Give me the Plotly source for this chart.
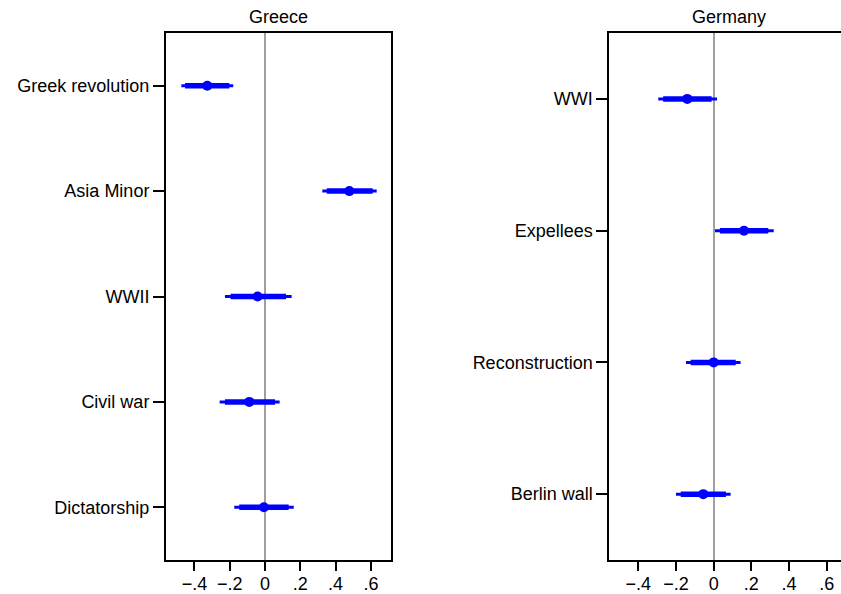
import plotly.graph_objects as go

# ---- data ----
greece_labels = ["Greek revolution", "Asia Minor", "WWII", "Civil war", "Dictatorship"]
greece_est = [-0.327, 0.478, -0.042, -0.089, -0.006]
greece_lo95 = [-0.474, 0.325, -0.227, -0.257, -0.174]
greece_hi95 = [-0.180, 0.633, 0.151, 0.083, 0.163]
greece_lo90 = [-0.453, 0.350, -0.195, -0.227, -0.146]
greece_hi90 = [-0.202, 0.610, 0.119, 0.057, 0.134]

germany_labels = ["WWI", "Expellees", "Reconstruction", "Berlin wall"]
germany_est = [-0.140, 0.161, 0.000, -0.055]
germany_lo95 = [-0.294, 0.007, -0.147, -0.200]
germany_hi95 = [0.018, 0.319, 0.143, 0.090]
germany_lo90 = [-0.268, 0.033, -0.122, -0.175]
germany_hi90 = [-0.011, 0.290, 0.117, 0.065]

tick_vals = [-0.4, -0.2, 0, 0.2, 0.4, 0.6]
tick_text = ["\u2212.4", "\u2212.2", "0", ".2", ".4", ".6"]

BLUE = "#0000ff"
FONT = "Liberation Sans, Arial, sans-serif"

fig = go.Figure()


def add_panel(labels, est, lo95, hi95, lo90, hi90, xa, ya):
    pos = list(range(1, len(labels) + 1))
    fig.add_trace(go.Scatter(
        x=est, y=pos, mode="markers", marker=dict(size=0.1, color=BLUE, opacity=0),
        error_x=dict(type="data", symmetric=False,
                     array=[h - e for h, e in zip(hi95, est)],
                     arrayminus=[e - l for l, e in zip(lo95, est)],
                     thickness=3, width=0, color=BLUE),
        xaxis=xa, yaxis=ya, showlegend=False, hoverinfo="skip"))
    fig.add_trace(go.Scatter(
        x=est, y=pos, mode="markers", marker=dict(size=0.1, color=BLUE, opacity=0),
        error_x=dict(type="data", symmetric=False,
                     array=[h - e for h, e in zip(hi90, est)],
                     arrayminus=[e - l for l, e in zip(lo90, est)],
                     thickness=5.5, width=0, color=BLUE),
        xaxis=xa, yaxis=ya, showlegend=False, hoverinfo="skip"))
    fig.add_trace(go.Scatter(
        x=est, y=pos, mode="markers", marker=dict(size=10, color=BLUE),
        xaxis=xa, yaxis=ya, showlegend=False))


add_panel(greece_labels, greece_est, greece_lo95, greece_hi95, greece_lo90, greece_hi90, "x", "y")
add_panel(germany_labels, germany_est, germany_lo95, germany_hi95, germany_lo90, germany_hi90, "x2", "y2")

xcommon = dict(tickvals=tick_vals, ticktext=tick_text, ticks="outside", ticklen=9,
               tickwidth=1.5, tickcolor="black", showline=True, linecolor="black",
               linewidth=2, showgrid=False, zeroline=True, zerolinecolor="#a0a0a0",
               zerolinewidth=2, mirror=True, ticklabelstandoff=-3,
               tickfont=dict(size=18, color="black", family=FONT))
ycommon = dict(ticks="outside", ticklen=11, tickwidth=1.5, tickcolor="black",
               showline=True, linecolor="black", linewidth=2, showgrid=False,
               zeroline=False, tickfont=dict(size=18, color="black", family=FONT))

fig.update_layout(
    width=841, height=594,
    margin=dict(l=0, r=0, t=33, b=34),
    paper_bgcolor="white", plot_bgcolor="white",
    font=dict(family=FONT, color="black"),
    xaxis=dict(domain=[166 / 841, 391 / 841], range=[-0.561, 0.714], anchor="y", **xcommon),
    yaxis=dict(domain=[0, 1], range=[5.5, 0.5], anchor="x", mirror=True,
               tickvals=list(range(1, len(greece_labels) + 1)), ticktext=greece_labels, **ycommon),
    xaxis2=dict(domain=[609.3 / 841, 1.0], range=[-0.554, 0.676], anchor="y2", **xcommon),
    yaxis2=dict(domain=[0, 1], range=[4.5, 0.5], anchor="x2", mirror=False,
                tickvals=list(range(1, len(germany_labels) + 1)), ticktext=germany_labels, **ycommon),
    annotations=[
        dict(text="Greece", x=(166 + 391) / 2 / 841, y=1, xref="paper", yref="paper",
             xanchor="center", yanchor="bottom", yshift=4, showarrow=False,
             font=dict(size=18, color="black", family=FONT)),
        dict(text="Germany", x=(609.3 + 848) / 2 / 841, y=1, xref="paper", yref="paper",
             xanchor="center", yanchor="bottom", yshift=4, showarrow=False,
             font=dict(size=18, color="black", family=FONT)),
    ],
)

fig.write_html("out.html", config={"displayModeBar": False},
               post_script="document.body.style.margin='0';document.body.style.overflow='hidden';")
